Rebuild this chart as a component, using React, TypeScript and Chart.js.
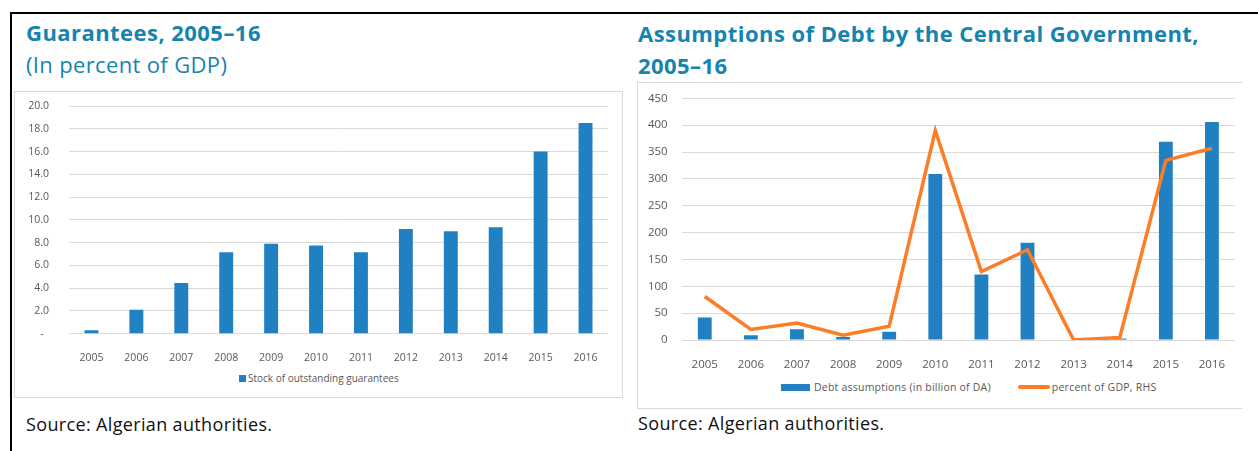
import React, { useEffect, useRef } from "react";
import { Chart, registerables } from "chart.js";

Chart.register(...registerables);

const years = ["2005", "2006", "2007", "2008", "2009", "2010", "2011", "2012", "2013", "2014", "2015", "2016"];
const guarantees = [0.3, 2.1, 4.45, 7.15, 7.9, 7.75, 7.15, 9.2, 9.0, 9.35, 16.0, 18.5];
const debtAssumptions = [42, 9, 20, 5.5, 15.5, 309, 122, 181, 1, 3, 369, 406];
const debtPctGDP = [0.54, 0.13, 0.21, 0.06, 0.17, 2.6, 0.85, 1.12, 0, 0.03, 2.23, 2.38];

const leftTitle = "Guarantees, 2005–16";
const leftSubtitle = "(In percent of GDP)";
const rightTitle1 = "Assumptions of Debt by the Central Government,";
const rightTitle2 = "2005–16";
const source = "Source: Algerian authorities.";
const leftLegend = "Stock of outstanding guarantees";
const rightLegendBar = "Debt assumptions (in billion of DA)";
const rightLegendLine = "percent of GDP, RHS";

const BLUE = "#2080c2";
const ORANGE = "#fd7c26";
const TEAL = "#1584ae";
const GRID = "#d9d9d9";
const TICK = "#595959";
const FONT = "'Open Sans', 'DejaVu Sans', sans-serif";

const fixY = (w: number) => (s: any) => {
  s.width = w;
  s.paddingTop = 0;
  s.paddingBottom = 0;
};
const fixX = (h: number) => (s: any) => {
  s.height = h;
  s.paddingLeft = 0;
  s.paddingRight = 0;
};

function LeftChart() {
  const ref = useRef<HTMLCanvasElement>(null);
  useEffect(() => {
    const chart = new Chart(ref.current!, {
      type: "bar",
      data: {
        labels: years,
        datasets: [
          {
            label: leftLegend,
            data: guarantees,
            backgroundColor: BLUE,
            barPercentage: 0.31,
            categoryPercentage: 1,
          },
        ],
      },
      options: {
        animation: false,
        responsive: false,
        devicePixelRatio: 1,
        layout: { padding: { top: 15, right: 14, left: 0, bottom: 0 } },
        plugins: { legend: { display: false }, tooltip: { enabled: false } },
        scales: {
          x: {
            grid: { display: false },
            border: { display: false },
            ticks: { color: TICK, font: { family: FONT, size: 10.5 }, padding: 10, maxRotation: 0 },
            afterFit: fixX(32.3),
          },
          y: {
            min: 0,
            max: 20,
            grid: { color: GRID, lineWidth: 1, drawTicks: false },
            border: { display: false },
            ticks: {
              stepSize: 2,
              color: TICK,
              padding: 20,
              font: { family: FONT, size: 10.5 },
              callback: (v: any) => (Number(v) === 0 ? "-  " : Number(v).toFixed(1)),
            },
            afterFit: fixY(55),
          },
        },
      },
    });
    return () => chart.destroy();
  }, []);
  return <canvas ref={ref} width={608} height={275} style={{ display: "block" }} />;
}

function RightChart() {
  const ref = useRef<HTMLCanvasElement>(null);
  useEffect(() => {
    const chart = new Chart(ref.current!, {
      type: "bar",
      data: {
        labels: years,
        datasets: [
          {
            type: "line",
            label: rightLegendLine,
            data: debtPctGDP,
            borderColor: ORANGE,
            backgroundColor: ORANGE,
            borderWidth: 3.5,
            pointRadius: 0,
            tension: 0,
            yAxisID: "y1",
            order: 0,
          } as any,
          {
            type: "bar",
            label: rightLegendBar,
            data: debtAssumptions,
            backgroundColor: BLUE,
            barPercentage: 0.3,
            categoryPercentage: 1,
            yAxisID: "y",
            order: 1,
          },
        ],
      },
      options: {
        animation: false,
        responsive: false,
        devicePixelRatio: 1,
        layout: { padding: { top: 16.3, right: 7, left: 0, bottom: 0 } },
        plugins: { legend: { display: false }, tooltip: { enabled: false } },
        scales: {
          x: {
            grid: { display: false },
            border: { display: false },
            ticks: { color: TICK, font: { family: FONT, size: 11.5 }, padding: 10, maxRotation: 0 },
            afterFit: fixX(32),
          },
          y: {
            min: 0,
            max: 450,
            position: "left",
            grid: { color: GRID, lineWidth: 1, drawTicks: false },
            border: { display: false },
            ticks: {
              stepSize: 50,
              color: TICK,
              padding: 14,
              font: { family: FONT, size: 11.5 },
            },
            afterFit: fixY(44.7),
          },
          y1: {
            min: 0,
            max: 3,
            position: "right",
            display: false,
            grid: { display: false },
          },
        },
      },
    });
    return () => chart.destroy();
  }, []);
  return <canvas ref={ref} width={605} height={290} style={{ display: "block" }} />;
}

const abs = (s: React.CSSProperties): React.CSSProperties => ({ position: "absolute", ...s });

export default function App() {
  const titleStyle: React.CSSProperties = {
    fontFamily: FONT,
    fontWeight: 700,
    fontSize: 22,
    letterSpacing: 0.45,
    color: TEAL,
    whiteSpace: "nowrap",
    lineHeight: "32px",
  };
  const legendText: React.CSSProperties = {
    fontFamily: FONT,
    color: TICK,
    whiteSpace: "nowrap",
  };
  const sourceStyle: React.CSSProperties = {
    fontFamily: FONT,
    fontSize: 18,
    letterSpacing: 0.35,
    color: "#111",
    whiteSpace: "nowrap",
    lineHeight: "24px",
  };
  return (
    <div
      style={abs({
        left: 0,
        top: 0,
        width: 1258,
        height: 451,
        background: "#fff",
        overflow: "hidden",
      })}
    >
      {/* black frame */}
      <div style={abs({ left: 10, top: 12, width: 1248, height: 2, background: "#000" })} />
      <div style={abs({ left: 10, top: 12, width: 2, height: 439, background: "#000" })} />

      {/* left panel */}
      <div style={abs({ left: 26, top: 16, ...titleStyle })}>{leftTitle}</div>
      <div style={abs({ left: 26, top: 48, ...titleStyle, fontWeight: 400, letterSpacing: 0.35 })}>
        {leftSubtitle}
      </div>
      <div
        style={abs({
          left: 14,
          top: 91,
          width: 607,
          height: 305,
          border: `1px solid ${GRID}`,
        })}
      />
      <div style={abs({ left: 14, top: 91 })}>
        <LeftChart />
      </div>
      <div style={abs({ left: 239, top: 371, height: 14, display: "flex", alignItems: "center" })}>
        <div style={{ width: 7, height: 7, background: BLUE, marginRight: 2 }} />
        <span style={{ ...legendText, fontSize: 10 }}>{leftLegend}</span>
      </div>
      <div style={abs({ left: 26, top: 412, ...sourceStyle })}>{source}</div>

      {/* right panel */}
      <div style={abs({ left: 638, top: 17, ...titleStyle })}>{rightTitle1}</div>
      <div style={abs({ left: 638, top: 49, ...titleStyle })}>{rightTitle2}</div>
      <div
        style={abs({
          left: 637,
          top: 82,
          width: 604,
          height: 325,
          border: `1px solid ${GRID}`,
          borderRight: "none",
        })}
      />
      <div style={abs({ left: 637, top: 82 })}>
        <RightChart />
      </div>
      <div style={abs({ left: 781, top: 380, height: 14, display: "flex", alignItems: "center" })}>
        <div style={{ width: 29, height: 7, background: BLUE, marginRight: 4 }} />
        <span style={{ ...legendText, fontSize: 10.5, letterSpacing: 0.22 }}>{rightLegendBar}</span>
        <div style={{ width: 32, height: 3.5, background: ORANGE, marginLeft: 27, marginRight: 2, borderRadius: 2 }} />
        <span style={{ ...legendText, fontSize: 10.5, letterSpacing: 0.25 }}>{rightLegendLine}</span>
      </div>
      <div style={abs({ left: 638, top: 411, ...sourceStyle })}>{source}</div>
    </div>
  );
}
